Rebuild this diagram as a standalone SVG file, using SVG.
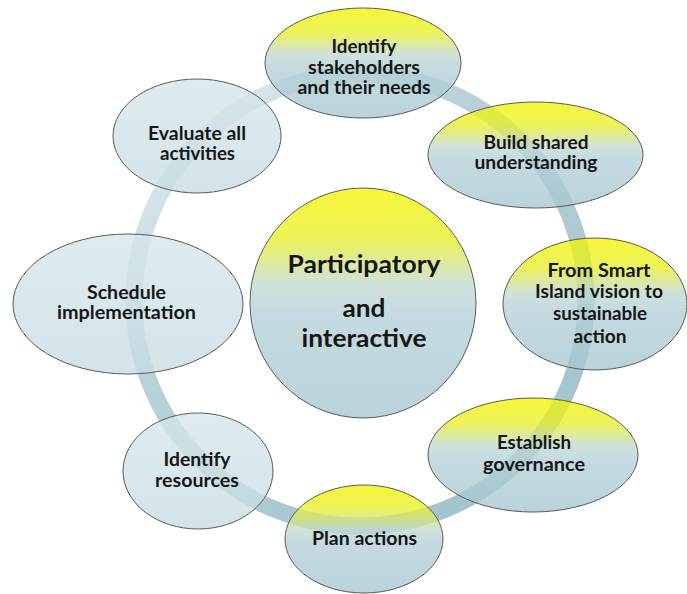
<svg xmlns="http://www.w3.org/2000/svg" width="687" height="594" viewBox="0 0 687 594">
<defs>
<linearGradient id="yel" x1="0" y1="0" x2="0" y2="1">
<stop offset="0" stop-color="#f4f400"/>
<stop offset="0.22" stop-color="#e8ef2a"/>
<stop offset="0.42" stop-color="#c2d9d2"/>
<stop offset="0.55" stop-color="#b4d0d8"/>
<stop offset="1" stop-color="#a7c6d0"/>
</linearGradient>
<linearGradient id="blu" x1="0" y1="0" x2="0" y2="1">
<stop offset="0" stop-color="#d6e6ea"/>
<stop offset="1" stop-color="#c6dce3"/>
</linearGradient>
<linearGradient id="ringg" gradientUnits="userSpaceOnUse" x1="180" y1="90" x2="520" y2="480">
<stop offset="0" stop-color="#e0ebef"/>
<stop offset="0.35" stop-color="#b6d0d8"/>
<stop offset="1" stop-color="#9ec0cb"/>
</linearGradient>
</defs>
<style>
.n{stroke:#5a5a5a;stroke-width:1;fill-opacity:0.78}
.y{fill:url(#yel)}
.b{fill:url(#blu)}
text{font-family:Lato,"Open Sans","Liberation Sans",sans-serif;font-weight:bold;fill:#161616;text-anchor:middle}
.t{font-size:18px}
.c{font-size:25px}
</style>
<g id="connectors">
<circle cx="360" cy="300" r="226" fill="none" stroke="url(#ringg)" stroke-width="17" stroke-opacity="0.95"/>
</g>
<g id="center">
<ellipse class="n y" cx="363" cy="303" rx="113" ry="115"/>
<text class="c" x="364" y="273" textLength="153" lengthAdjust="spacingAndGlyphs">Participatory</text>
<text class="c" x="364" y="317" textLength="43" lengthAdjust="spacingAndGlyphs">and</text>
<text class="c" x="364" y="347" textLength="125" lengthAdjust="spacingAndGlyphs">interactive</text>
</g>
<g id="n1">
<ellipse class="n y" cx="363" cy="63" rx="98" ry="55"/>
<text class="t" x="364" y="53" textLength="65" lengthAdjust="spacingAndGlyphs">Identify</text>
<text class="t" x="364" y="74" textLength="112" lengthAdjust="spacingAndGlyphs">stakeholders</text>
<text class="t" x="364" y="94" textLength="133" lengthAdjust="spacingAndGlyphs">and their needs</text>
</g>
<g id="n2">
<ellipse class="n y" cx="535.5" cy="155" rx="107.5" ry="53"/>
<text class="t" x="536" y="149" textLength="105" lengthAdjust="spacingAndGlyphs">Build shared</text>
<text class="t" x="536" y="169" textLength="123" lengthAdjust="spacingAndGlyphs">understanding</text>
</g>
<g id="n3">
<ellipse class="n y" cx="595" cy="304" rx="92" ry="66"/>
<text class="t" x="599" y="277" textLength="103" lengthAdjust="spacingAndGlyphs">From Smart</text>
<text class="t" x="599" y="298" textLength="128" lengthAdjust="spacingAndGlyphs">Island vision to</text>
<text class="t" x="600" y="320" textLength="94" lengthAdjust="spacingAndGlyphs">sustainable</text>
<text class="t" x="600" y="343" textLength="53" lengthAdjust="spacingAndGlyphs">action</text>
</g>
<g id="n4">
<ellipse class="n y" cx="533" cy="455" rx="105" ry="57"/>
<text class="t" x="534" y="449" textLength="74" lengthAdjust="spacingAndGlyphs">Establish</text>
<text class="t" x="534" y="471" textLength="102" lengthAdjust="spacingAndGlyphs">governance</text>
</g>
<g id="n5">
<ellipse class="n y" cx="364" cy="539" rx="79" ry="54"/>
<text class="t" x="364.5" y="545" textLength="105" lengthAdjust="spacingAndGlyphs">Plan actions</text>
</g>
<g id="n6">
<ellipse class="n b" cx="198" cy="471" rx="75" ry="58"/>
<text class="t" x="197" y="466" textLength="67" lengthAdjust="spacingAndGlyphs">Identify</text>
<text class="t" x="197" y="487" textLength="84" lengthAdjust="spacingAndGlyphs">resources</text>
</g>
<g id="n7">
<ellipse class="n b" cx="128" cy="304" rx="115" ry="70"/>
<text class="t" x="126.5" y="299" textLength="79" lengthAdjust="spacingAndGlyphs">Schedule</text>
<text class="t" x="126.5" y="319" textLength="139" lengthAdjust="spacingAndGlyphs">implementation</text>
</g>
<g id="n8">
<ellipse class="n b" cx="197" cy="136" rx="84" ry="57"/>
<text class="t" x="197" y="140" textLength="98" lengthAdjust="spacingAndGlyphs">Evaluate all</text>
<text class="t" x="197.5" y="160" textLength="75" lengthAdjust="spacingAndGlyphs">activities</text>
</g>
</svg>
